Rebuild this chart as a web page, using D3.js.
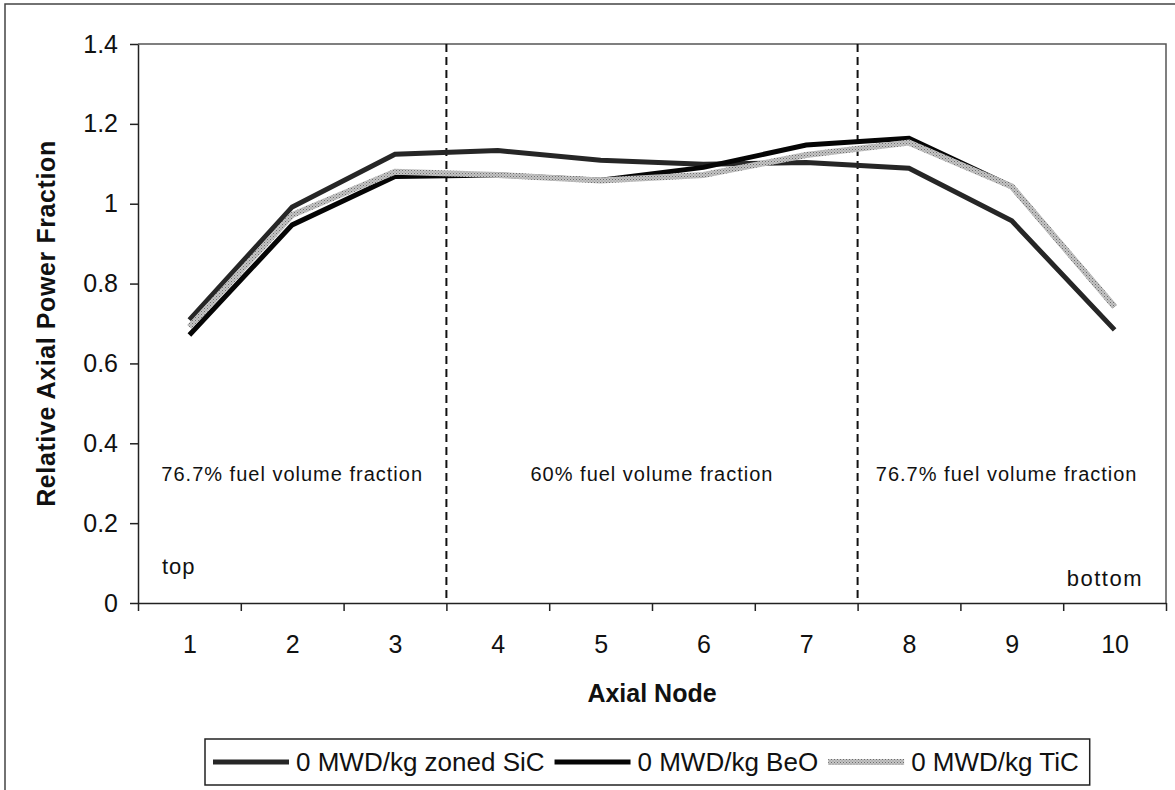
<!DOCTYPE html>
<html>
<head>
    <meta charset="utf-8">
    <title>Relative Axial Power Fraction</title>
    <script src="https://d3js.org/d3.v7.min.js"></script>
    <style>
        body { margin: 0; background: #fff; }
        text { font-family: "Liberation Sans", Arial, sans-serif; fill: #111; }
        .axis path, .axis line { stroke: #222; stroke-width: 1.5px; }
        .axis text { font-size: 25px; }
    </style>
</head>
<body>
    <div id="chart"></div>

    <script>
        // data
        const nodes = [1, 2, 3, 4, 5, 6, 7, 8, 9, 10];
        const sicValues = [0.709, 0.992, 1.124, 1.133, 1.109, 1.099, 1.103, 1.089, 0.957, 0.684];
        const beoValues = [0.671, 0.947, 1.068, 1.072, 1.059, 1.091, 1.147, 1.164, 1.043, 0.742];
        const ticValues = [0.691, 0.972, 1.080, 1.072, 1.058, 1.072, 1.122, 1.153, 1.043, 0.742];
        const seriesNames = ["0 MWD/kg zoned SiC", "0 MWD/kg BeO", "0 MWD/kg TiC"];
        const yTicks = [0, 0.2, 0.4, 0.6, 0.8, 1, 1.2, 1.4];
        const zoneBreaks = [3.5, 7.5];
        const zoneLabels = ["76.7% fuel volume fraction", "60% fuel volume fraction", "76.7% fuel volume fraction"];

        const W = 1175, H = 790;
        const margin = {top: 44, right: 9, bottom: 187, left: 138};
        const width = W - margin.left - margin.right;
        const height = H - margin.top - margin.bottom;

        const svg = d3.select("#chart")
            .append("svg")
            .attr("width", W)
            .attr("height", H);

        // outer frame of the figure
        svg.append("rect")
            .attr("x", 5).attr("y", 4)
            .attr("width", W + 10).attr("height", H + 10)
            .attr("fill", "none").attr("stroke", "#444").attr("stroke-width", 1.5);

        // grey speckled pattern for the TiC line
        const defs = svg.append("defs");
        const pat = defs.append("pattern")
            .attr("id", "speckle")
            .attr("patternUnits", "userSpaceOnUse")
            .attr("width", 3).attr("height", 3);
        pat.append("rect").attr("width", 3).attr("height", 3).attr("fill", "#c4c4c4");
        pat.append("rect").attr("width", 1).attr("height", 1).attr("fill", "#6e6e6e");
        pat.append("rect").attr("x", 1.5).attr("y", 1.5).attr("width", 1).attr("height", 1).attr("fill", "#8a8a8a");

        const g = svg.append("g")
            .attr("transform", `translate(${margin.left},${margin.top})`);

        const x = d3.scaleLinear().domain([0.5, 10.5]).range([0, width]);
        const y = d3.scaleLinear().domain([0, 1.4]).range([height, 0]);

        // plot frame (top and right)
        g.append("path")
            .attr("d", `M0,0H${width}V${height}`)
            .attr("fill", "none").attr("stroke", "#555").attr("stroke-width", 1.5);

        // y axis
        g.append("g")
            .attr("class", "axis")
            .call(d3.axisLeft(y).tickValues(yTicks).tickSize(8).tickSizeOuter(0).tickPadding(12)
                .tickFormat(d => String(+d.toFixed(1))));

        // x axis: ticks between categories, labels at category centres
        g.append("g")
            .attr("class", "axis")
            .attr("transform", `translate(0,${height})`)
            .call(d3.axisBottom(x).tickValues(d3.range(0.5, 11, 1)).tickSize(8).tickSizeOuter(0).tickFormat(""));
        const xLab = g.append("g")
            .attr("class", "axis")
            .attr("transform", `translate(0,${height})`)
            .call(d3.axisBottom(x).tickValues(nodes).tickSize(0).tickPadding(32));
        xLab.select(".domain").remove();

        // zone boundaries
        g.selectAll(".zone-line")
            .data(zoneBreaks)
            .enter()
            .append("line")
            .attr("x1", d => x(d)).attr("x2", d => x(d))
            .attr("y1", 0).attr("y2", height)
            .attr("stroke", "#111").attr("stroke-width", 2)
            .attr("stroke-dasharray", "8,5");

        const zoneEdges = [0.5].concat(zoneBreaks, [10.4]);
        g.selectAll(".zone-label")
            .data(zoneLabels)
            .enter()
            .append("text")
            .attr("x", (d, i) => (x(zoneEdges[i]) + x(zoneEdges[i + 1])) / 2)
            .attr("y", y(0.305))
            .attr("text-anchor", "middle")
            .style("font-size", "20px")
            .style("letter-spacing", "1px")
            .text(d => d);

        g.append("text")
            .attr("x", 24).attr("y", y(0.073))
            .style("font-size", "22px").style("letter-spacing", "1px")
            .text("top");
        g.append("text")
            .attr("x", width - 23).attr("y", y(0.043))
            .attr("text-anchor", "end")
            .style("font-size", "22px").style("letter-spacing", "1.5px")
            .text("bottom");

        // series
        const line = d3.line()
            .x((d, i) => x(nodes[i]))
            .y(d => y(d));

        const series = [
            {name: seriesNames[0], values: sicValues, stroke: "#262626", width: 5},
            {name: seriesNames[1], values: beoValues, stroke: "#050505", width: 5},
            {name: seriesNames[2], values: ticValues, stroke: "url(#speckle)", width: 6}
        ];

        g.selectAll(".series")
            .data(series)
            .enter()
            .append("path")
            .attr("class", "series")
            .attr("d", d => line(d.values))
            .attr("fill", "none")
            .attr("stroke", d => d.stroke)
            .attr("stroke-width", d => d.width);

        // axis titles
        svg.append("text")
            .attr("x", margin.left + width / 2)
            .attr("y", 702)
            .attr("text-anchor", "middle")
            .style("font-size", "25px").style("font-weight", "bold")
            .text("Axial Node");

        svg.append("text")
            .attr("transform", `translate(55,${margin.top + height / 2}) rotate(-90)`)
            .attr("text-anchor", "middle")
            .style("font-size", "25px").style("font-weight", "bold")
            .style("letter-spacing", "0.6px")
            .text("Relative Axial Power Fraction");

        // legend
        const legend = svg.append("g");
        const box = legend.append("rect")
            .attr("x", 205).attr("y", 739).attr("height", 46)
            .attr("fill", "#fff").attr("stroke", "#222").attr("stroke-width", 1.5);

        let cursor = 213;
        series.forEach(s => {
            legend.append("line")
                .attr("x1", cursor).attr("x2", cursor + 76)
                .attr("y1", 762).attr("y2", 762)
                .attr("stroke", s.stroke).attr("stroke-width", s.width);
            const t = legend.append("text")
                .attr("x", cursor + 83).attr("y", 771)
                .style("font-size", "26px")
                .text(s.name);
            cursor = cursor + 83 + t.node().getComputedTextLength() + 10;
        });
        box.attr("width", cursor + 1 - 205);
    </script>
</body>
</html>
